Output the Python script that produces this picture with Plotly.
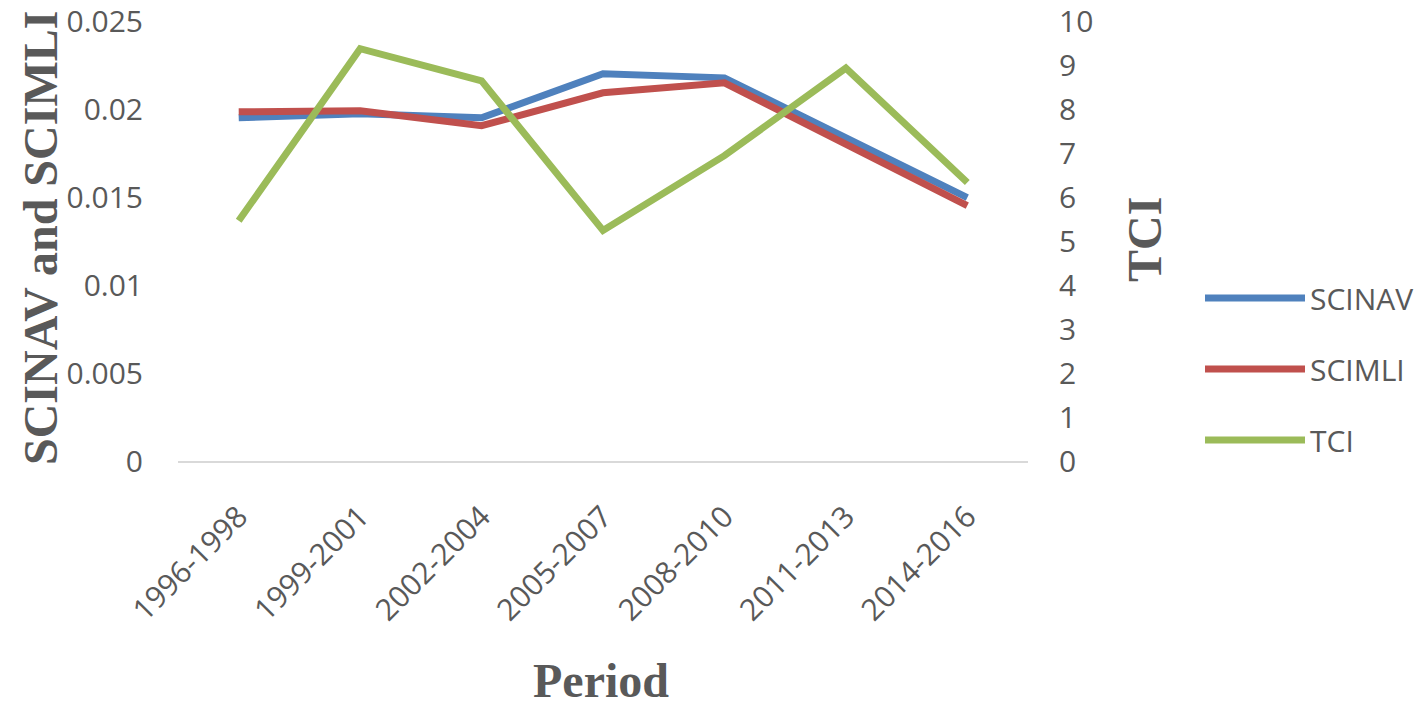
import plotly.graph_objects as go

periods = ["1996-1998", "1999-2001", "2002-2004", "2005-2007", "2008-2010", "2011-2013", "2014-2016"]
scinav = [0.0195, 0.01973, 0.0195, 0.0220, 0.02177, 0.01837, 0.01497]
scimli = [0.01984, 0.0199, 0.01905, 0.02092, 0.02149, 0.01803, 0.01451]
tci = [5.46, 9.37, 8.64, 5.24, 6.94, 8.93, 6.33]

GREY = "#595959"
TICKFONT = dict(family="Open Sans", size=30, color=GREY)
TITLEFONT = dict(family="Liberation Serif", size=48, color=GREY, weight="bold")

fig = go.Figure()
fig.add_trace(go.Scatter(x=periods, y=scinav, name="SCINAV", mode="lines",
                         line=dict(color="#4F81BD", width=7), legendgroup="a"))
fig.add_trace(go.Scatter(x=periods, y=scimli, name="SCIMLI", mode="lines",
                         line=dict(color="#C0504D", width=7), legendgroup="b"))
fig.add_trace(go.Scatter(x=periods, y=tci, name="TCI", mode="lines", yaxis="y2",
                         line=dict(color="#9BBB59", width=7), legendgroup="c"))

W, H = 1427, 712
L, R, T, B = 178, 399, 21, 251
pw, ph = W - L - R, H - T - B


def px(x):
    return (x - L) / pw


def py(y):
    return (H - B - y) / ph


fig.update_layout(
    width=W, height=H,
    margin=dict(l=L, r=R, t=T, b=B, autoexpand=False),
    paper_bgcolor="white", plot_bgcolor="white",
    showlegend=True,
    legend=dict(x=px(1200), y=py(272), xanchor="left", yanchor="top",
                font=TICKFONT, itemwidth=100, tracegroupgap=29,
                bgcolor="rgba(0,0,0,0)"),
    xaxis=dict(type="category", range=[-0.5, 6.5], showgrid=False, zeroline=False,
               showline=True, linecolor="#D9D9D9", linewidth=2, automargin=False,
               tickangle=-45, tickfont=TICKFONT, ticks="", ticklabelstandoff=24),
    yaxis=dict(range=[0, 0.025], tickvals=[0, 0.005, 0.01, 0.015, 0.02, 0.025],
               showgrid=False, zeroline=False, ticklabeloverflow="allow", automargin=False,
               showline=False, tickfont=TICKFONT, ticks="", ticklabelstandoff=34),
    yaxis2=dict(range=[0, 10], dtick=1, tick0=0, overlaying="y", side="right", showgrid=False,
                zeroline=False, showline=False, tickfont=TICKFONT, ticks="", automargin=False,
                ticklabeloverflow="allow", ticklabelstandoff=30),
    annotations=[
        dict(text="SCINAV and SCIMLI", xref="paper", yref="paper", x=px(40), y=py(238),
             textangle=-90, showarrow=False, font=TITLEFONT, xanchor="center", yanchor="middle"),
        dict(text="TCI", xref="paper", yref="paper", x=px(1145), y=py(240),
             textangle=-90, showarrow=False, font=TITLEFONT, xanchor="center", yanchor="middle"),
        dict(text="Period", xref="paper", yref="paper", x=px(601), y=py(680),
             showarrow=False, font=TITLEFONT, xanchor="center", yanchor="middle"),
    ],
)

fig.write_html("out.html", config={"displayModeBar": False},
               post_script="document.body.style.margin='0';document.body.style.overflow='hidden';")
